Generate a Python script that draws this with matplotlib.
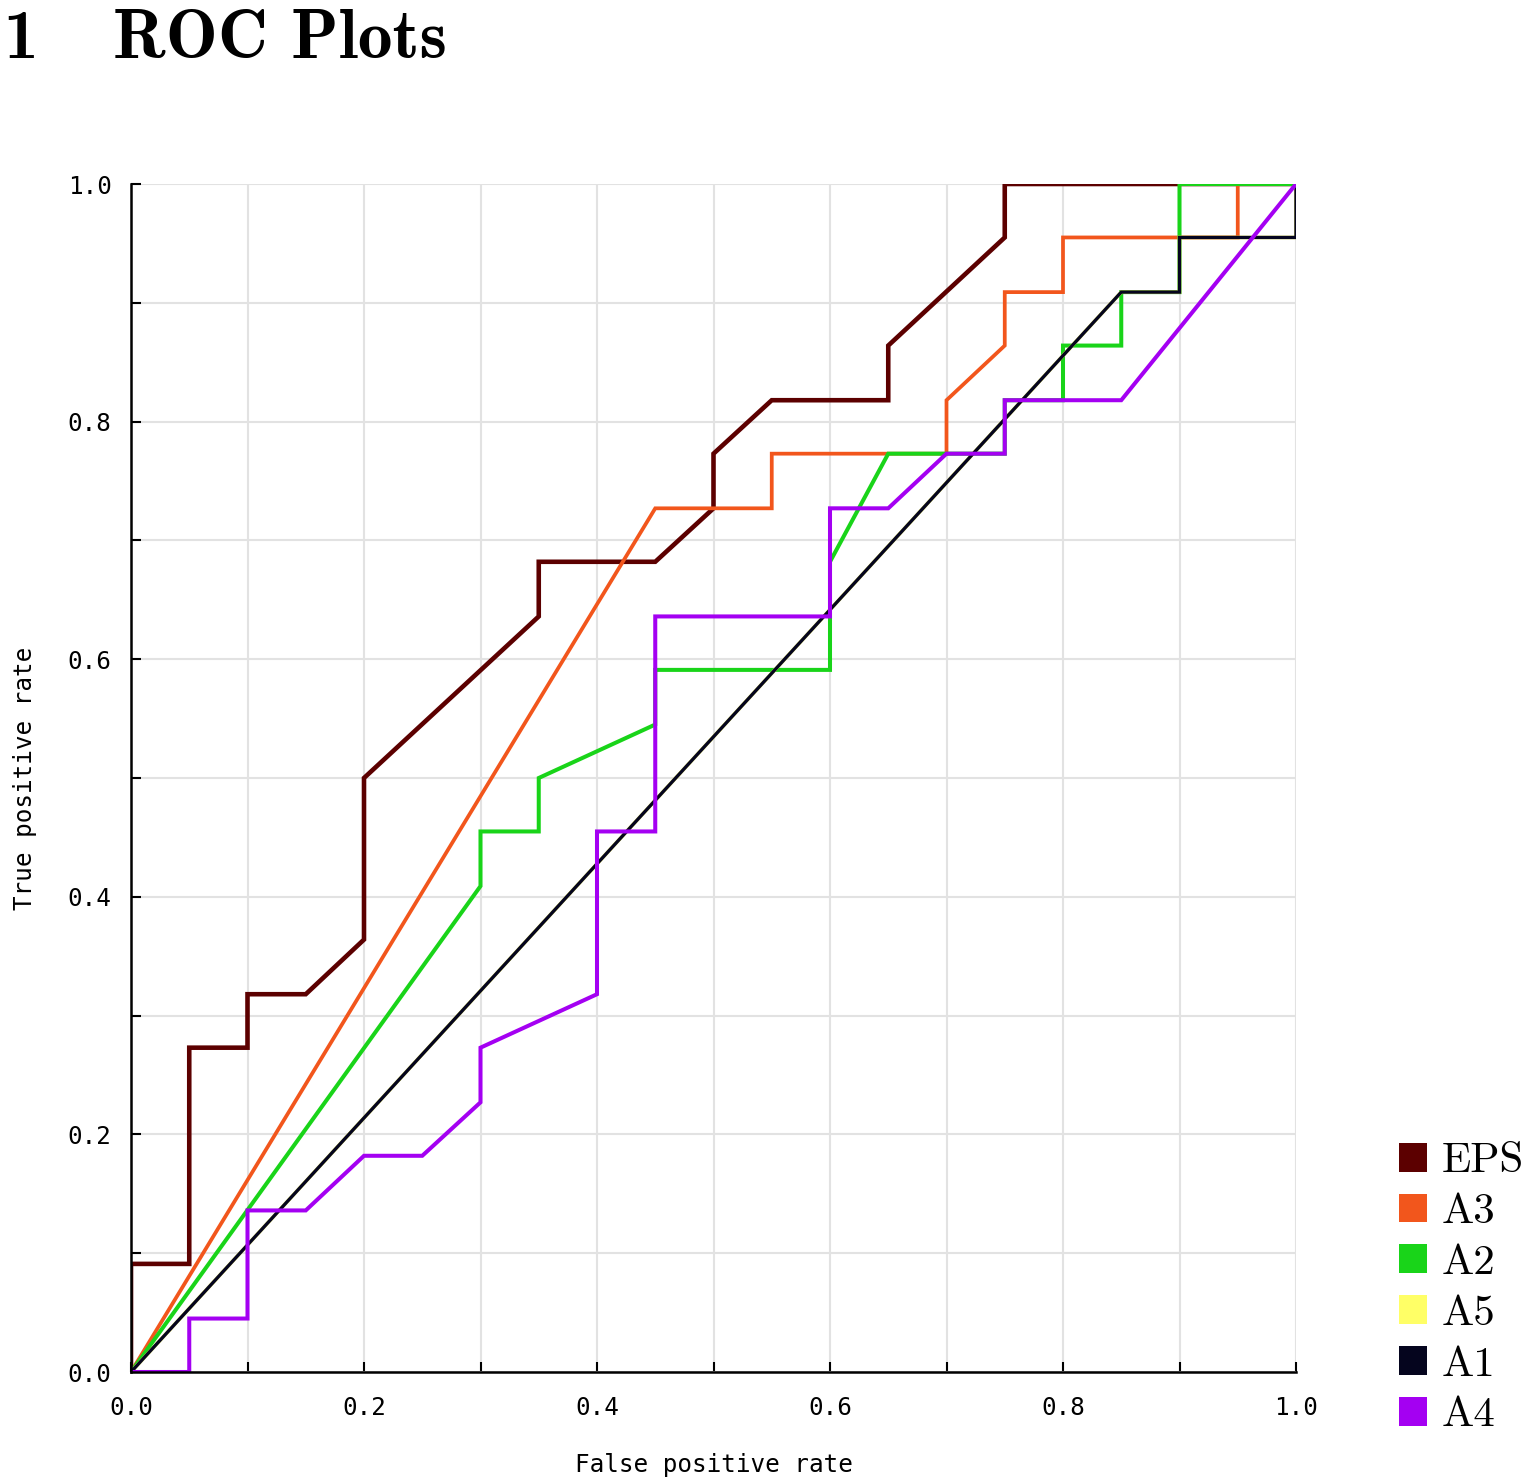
#!/usr/bin/env python3
"""ROC plots figure."""
import matplotlib
matplotlib.use('Agg')
import matplotlib.pyplot as plt
from matplotlib.patches import Patch
import numpy as np

# ROC curves (false positive rate, true positive rate)
eps_fpr = [0.0, 0.0, 0.05, 0.05, 0.10, 0.10, 0.15, 0.20, 0.20, 0.35, 0.35, 0.45, 0.50, 0.50, 0.55, 0.65, 0.65, 0.75, 0.75, 1.0]
eps_tpr = [0.0, 0.091, 0.091, 0.273, 0.273, 0.318, 0.318, 0.364, 0.500, 0.636, 0.682, 0.682, 0.727, 0.773, 0.818, 0.818, 0.864, 0.955, 1.0, 1.0]

a3_fpr = [0.0, 0.45, 0.55, 0.55, 0.70, 0.70, 0.75, 0.75, 0.80, 0.80, 0.95, 0.95, 1.0]
a3_tpr = [0.0, 0.727, 0.727, 0.773, 0.773, 0.818, 0.864, 0.909, 0.909, 0.955, 0.955, 1.0, 1.0]

a2_fpr = [0.0, 0.30, 0.30, 0.35, 0.35, 0.45, 0.45, 0.60, 0.60, 0.65, 0.75, 0.75, 0.80, 0.80, 0.85, 0.85, 0.90, 0.90, 1.0]
a2_tpr = [0.0, 0.409, 0.455, 0.455, 0.500, 0.545, 0.591, 0.591, 0.682, 0.773, 0.773, 0.818, 0.818, 0.864, 0.864, 0.909, 0.909, 1.0, 1.0]

a5_fpr = [0.0, 0.85, 0.90, 0.90, 1.0, 1.0]
a5_tpr = [0.0, 0.909, 0.909, 0.955, 0.955, 1.0]

a1_fpr = [0.0, 0.85, 0.90, 0.90, 1.0, 1.0]
a1_tpr = [0.0, 0.909, 0.909, 0.955, 0.955, 1.0]

a4_fpr = [0.0, 0.05, 0.05, 0.10, 0.10, 0.15, 0.20, 0.25, 0.30, 0.30, 0.40, 0.40, 0.45, 0.45, 0.60, 0.60, 0.65, 0.70, 0.75, 0.75, 0.85, 1.0]
a4_tpr = [0.0, 0.0, 0.045, 0.045, 0.136, 0.136, 0.182, 0.182, 0.227, 0.273, 0.318, 0.455, 0.455, 0.636, 0.636, 0.727, 0.727, 0.773, 0.773, 0.818, 0.818, 1.0]

names = ['EPS', 'A3', 'A2', 'A5', 'A1', 'A4']
colors = ['#5c0000', '#f2561c', '#19d419', '#ffff66', '#05051e', '#a400f2']
curves = [(eps_fpr, eps_tpr), (a3_fpr, a3_tpr), (a2_fpr, a2_tpr),
          (a5_fpr, a5_tpr), (a1_fpr, a1_tpr), (a4_fpr, a4_tpr)]
widths = [3.3, 2.7, 2.9, 2.6, 2.4, 2.9]

fig = plt.figure(figsize=(15.34, 14.8), dpi=100)
ax = fig.add_axes([131/1534, 1 - 1372/1480, 1165/1534, 1188/1480])

for (x, y), c, lw in zip(curves, colors, widths):
    ax.plot(x, y, color=c, lw=lw, solid_joinstyle='miter', zorder=3)

ax.set_xlim(0, 1); ax.set_ylim(0, 1)
ticks = np.arange(0, 1.01, 0.2)
ax.set_xticks(ticks); ax.set_yticks(ticks)
ax.set_xticks(np.arange(0.1, 1.0, 0.2), minor=True)
ax.set_yticks(np.arange(0.1, 1.0, 0.2), minor=True)
ax.set_xticklabels([f'{t:.1f}' for t in ticks], family='DejaVu Sans Mono', fontsize=17.5)
ax.set_yticklabels([f'{t:.1f}' for t in ticks], family='DejaVu Sans Mono', fontsize=17.5)
ax.tick_params(which='both', direction='in', length=7, width=1.5, color='black')
ax.tick_params(axis='x', pad=17)
ax.tick_params(axis='y', pad=14)
ax.grid(which='both', color='#e2e2e2', lw=1.5, zorder=0)
ax.set_axisbelow(True)
for s in ['top', 'right']:
    ax.spines[s].set_visible(False)
for s in ['left', 'bottom']:
    ax.spines[s].set_linewidth(1.8)
    ax.spines[s].set_zorder(5)

ax.set_xlabel('False positive rate', family='DejaVu Sans Mono', fontsize=17.5, labelpad=24)
ax.set_ylabel('True positive rate', family='DejaVu Sans Mono', fontsize=17.5, labelpad=22)

fig.text(0.002, 1 - 58/1480, '1', family='cmb10', fontsize=50, va='baseline', ha='left')
fig.text(113/1534, 1 - 58/1480, 'ROC Plots', family='cmb10', fontsize=50, va='baseline', ha='left')

handles = [Patch(facecolor=c, edgecolor='none') for c in colors]
fig.legend(handles, names, loc='lower left', bbox_to_anchor=(1377/1534, 1 - 1456/1480),
           frameon=False, borderpad=0, handlelength=0.65, handleheight=0.65,
           handletextpad=0.35, labelspacing=0.31, prop={'family': 'cmr10', 'size': 31})

fig.savefig('out.png', dpi=100)
